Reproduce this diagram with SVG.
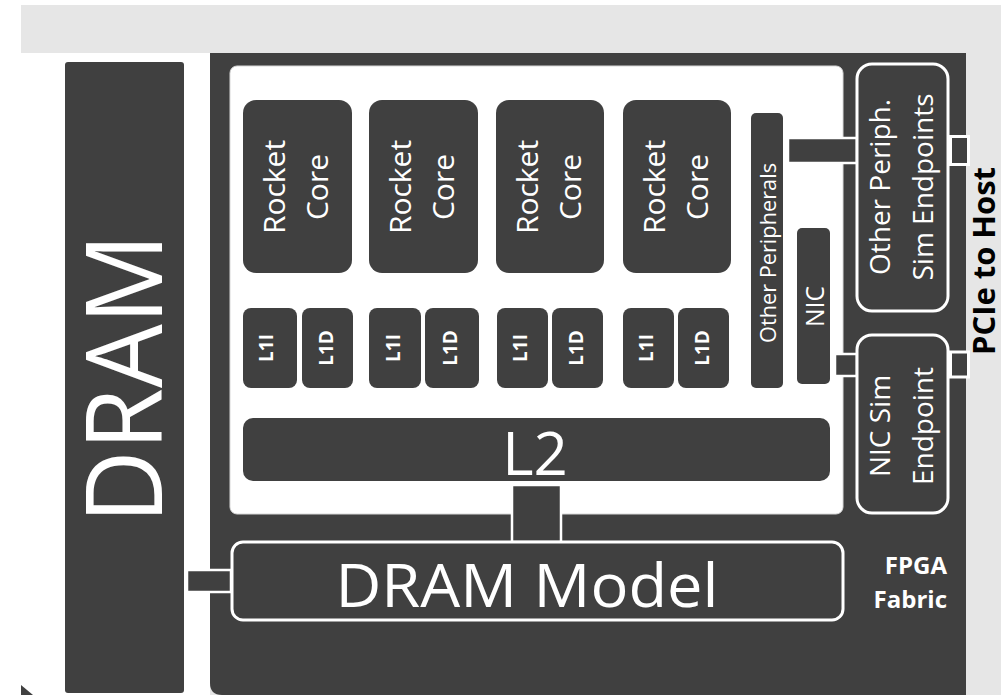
<svg xmlns="http://www.w3.org/2000/svg" width="1001" height="695" viewBox="0 0 1001 695">
<style>
.t{font-family:"Open Sans","Liberation Sans",sans-serif;fill:#fff}
.b{font-weight:bold}
.dk{fill:#404040}
.ob{fill:#404040;stroke:#fff;stroke-width:3}
.cn{fill:#404040;stroke:#fff;stroke-width:2.5}
</style>
<rect x="0" y="0" width="1001" height="695" fill="#fff"/>
<rect x="21" y="5" width="980" height="690" fill="#e6e6e6"/>
<rect x="21" y="53" width="189" height="642" fill="#fff"/>
<path d="M21 685 L33 695 L21 695 Z" fill="#404040"/>
<g id="fabric">
<path d="M210 53 H966 V695 H222 Q210 695 210 683 Z" class="dk"/>
<text class="t b" x="947" y="574" font-size="24" text-anchor="end">FPGA</text>
<text class="t b" x="947" y="608" font-size="24" text-anchor="end">Fabric</text>
</g>
<rect x="230" y="66" width="613" height="448" rx="7" fill="#fff" stroke="#d8d8d8" stroke-width="1"/>
<g id="dram">
<rect x="65" y="62" width="119" height="631" rx="3" class="dk"/>
<text class="t" transform="translate(162,378.5) rotate(-90)" font-size="106" text-anchor="middle" textLength="290" lengthAdjust="spacingAndGlyphs">DRAM</text>
</g>
<g id="connectors">
<rect x="512" y="485" width="49" height="57" class="cn"/>
<rect x="187" y="570" width="44" height="22" class="cn"/>
<rect x="788" y="138" width="69" height="25" class="cn"/>
<rect x="835" y="354" width="22" height="22" class="cn"/>
<rect x="950.5" y="136.5" width="18" height="28" class="ob"/>
<rect x="950.5" y="352" width="18" height="25" class="ob"/>
</g>
<g id="core1"><rect x="243" y="100" width="109" height="173" rx="13" class="dk"/>
<text class="t" transform="translate(285,187) rotate(-90)" font-size="30" text-anchor="middle">Rocket</text>
<text class="t" transform="translate(328,187) rotate(-90)" font-size="30" text-anchor="middle">Core</text></g>
<g id="core2"><rect x="369" y="100" width="109" height="173" rx="13" class="dk"/>
<text class="t" transform="translate(411,187) rotate(-90)" font-size="30" text-anchor="middle">Rocket</text>
<text class="t" transform="translate(454,187) rotate(-90)" font-size="30" text-anchor="middle">Core</text></g>
<g id="core3"><rect x="496" y="100" width="108" height="173" rx="13" class="dk"/>
<text class="t" transform="translate(538,187) rotate(-90)" font-size="30" text-anchor="middle">Rocket</text>
<text class="t" transform="translate(581,187) rotate(-90)" font-size="30" text-anchor="middle">Core</text></g>
<g id="core4"><rect x="623" y="100" width="108" height="173" rx="13" class="dk"/>
<text class="t" transform="translate(665,187) rotate(-90)" font-size="30" text-anchor="middle">Rocket</text>
<text class="t" transform="translate(708,187) rotate(-90)" font-size="30" text-anchor="middle">Core</text></g>
<g id="l1i1"><rect x="243" y="308" width="54" height="80" rx="8" class="dk"/><text class="t b" transform="translate(273,348) rotate(-90)" font-size="19" text-anchor="middle">L1I</text></g>
<g id="l1d1"><rect x="302" y="308" width="51" height="80" rx="8" class="dk"/><text class="t b" transform="translate(333,348) rotate(-90)" font-size="19" text-anchor="middle">L1D</text></g>
<g id="l1i2"><rect x="369" y="308" width="52" height="80" rx="8" class="dk"/><text class="t b" transform="translate(400,348) rotate(-90)" font-size="19" text-anchor="middle">L1I</text></g>
<g id="l1d2"><rect x="425" y="308" width="54" height="80" rx="8" class="dk"/><text class="t b" transform="translate(457,348) rotate(-90)" font-size="19" text-anchor="middle">L1D</text></g>
<g id="l1i3"><rect x="497" y="308" width="51" height="80" rx="8" class="dk"/><text class="t b" transform="translate(527,348) rotate(-90)" font-size="19" text-anchor="middle">L1I</text></g>
<g id="l1d3"><rect x="552" y="308" width="51" height="80" rx="8" class="dk"/><text class="t b" transform="translate(583,348) rotate(-90)" font-size="19" text-anchor="middle">L1D</text></g>
<g id="l1i4"><rect x="623" y="308" width="51" height="80" rx="8" class="dk"/><text class="t b" transform="translate(653,348) rotate(-90)" font-size="19" text-anchor="middle">L1I</text></g>
<g id="l1d4"><rect x="678" y="308" width="51" height="80" rx="8" class="dk"/><text class="t b" transform="translate(709,348) rotate(-90)" font-size="19" text-anchor="middle">L1D</text></g>
<g id="l2"><rect x="243" y="418" width="587" height="63" rx="10" class="dk"/>
<text class="t" x="535" y="475" font-size="60" text-anchor="middle">L2</text></g>
<g id="otherperipherals"><rect x="751" y="113" width="32" height="275" rx="5" class="dk"/>
<text class="t" transform="translate(776,253) rotate(-90)" font-size="22" text-anchor="middle" textLength="180" lengthAdjust="spacingAndGlyphs">Other Peripherals</text></g>
<g id="nic"><rect x="797" y="228" width="33" height="156" rx="5" class="dk"/>
<text class="t" transform="translate(824,306.5) rotate(-90)" font-size="26" text-anchor="middle" textLength="41" lengthAdjust="spacingAndGlyphs">NIC</text></g>
<g id="otherperiphsim"><rect x="857" y="64" width="91" height="247" rx="15" class="ob"/>
<text class="t" transform="translate(890,187) rotate(-90)" font-size="28" text-anchor="middle">Other Periph.</text>
<text class="t" transform="translate(933,187) rotate(-90)" font-size="28" text-anchor="middle">Sim Endpoints</text></g>
<g id="nicsim"><rect x="857" y="335" width="91" height="178" rx="15" class="ob"/>
<text class="t" transform="translate(890,426) rotate(-90)" font-size="28" text-anchor="middle">NIC Sim</text>
<text class="t" transform="translate(933,426) rotate(-90)" font-size="28" text-anchor="middle">Endpoint</text></g>
<g id="drammodel"><rect x="232" y="542" width="611" height="78" rx="11" class="ob"/>
<text class="t" x="527" y="607" font-size="61" text-anchor="middle" textLength="383" lengthAdjust="spacingAndGlyphs">DRAM Model</text></g>
<g id="pcie"><text class="b" transform="translate(995,261) rotate(-90)" font-family="Open Sans, Liberation Sans, sans-serif" font-size="30" text-anchor="middle" fill="#000" textLength="188" lengthAdjust="spacingAndGlyphs">PCIe to Host</text></g>
</svg>
